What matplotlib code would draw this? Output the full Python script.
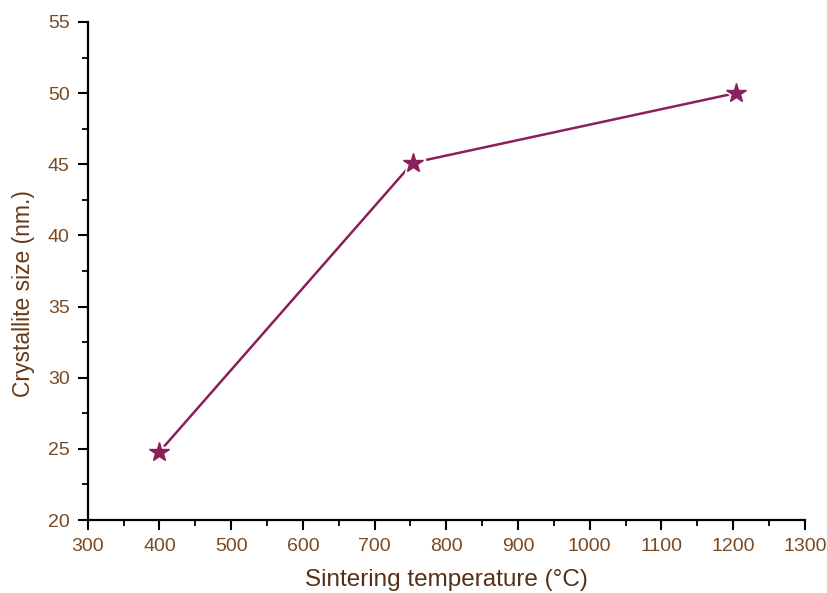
import matplotlib
matplotlib.use("Agg")
import matplotlib.pyplot as plt
from matplotlib.ticker import MultipleLocator

temperature = [400, 753, 1204]
crystallite_size = [24.8, 45.1, 50.0]

x_ticks = [300, 400, 500, 600, 700, 800, 900, 1000, 1100, 1200, 1300]
y_ticks = [20, 25, 30, 35, 40, 45, 50, 55]

line_color = "#8a1f5c"
label_color = "#7a4a22"

plt.rcParams["font.family"] = ["Liberation Sans", "DejaVu Sans"]

fig = plt.figure(figsize=(8.28, 5.93), dpi=100)
ax = fig.add_axes([0.106, 0.123, 0.866, 0.840])

ax.plot(temperature, crystallite_size, color=line_color, linewidth=1.8,
        marker="*", markersize=18, markerfacecolor=line_color,
        markeredgecolor="white", markeredgewidth=2.5)
# redraw stars without the white halo on top
ax.plot(temperature, crystallite_size, linestyle="none", marker="*",
        markersize=15, color=line_color)

ax.set_xlim(300, 1300)
ax.set_ylim(20, 55)
ax.set_xticks(x_ticks)
ax.set_yticks(y_ticks)
ax.xaxis.set_minor_locator(MultipleLocator(50))
ax.yaxis.set_minor_locator(MultipleLocator(2.5))

for side in ("top", "right"):
    ax.spines[side].set_visible(False)
for side in ("left", "bottom"):
    ax.spines[side].set_linewidth(1.6)

ax.tick_params(which="major", direction="out", length=7, width=1.5,
               labelsize=14, labelcolor=label_color, pad=6)
ax.tick_params(which="minor", direction="out", length=4, width=1.3)

ax.set_xlabel("Sintering temperature (°C)", fontsize=17.5, color="#553018", labelpad=10)
ax.set_ylabel("Crystallite size (nm.)", fontsize=16.5, color="#6a3a18")
ax.yaxis.set_label_coords(-0.074, 0.455)

fig.savefig("out.png", dpi=100)
